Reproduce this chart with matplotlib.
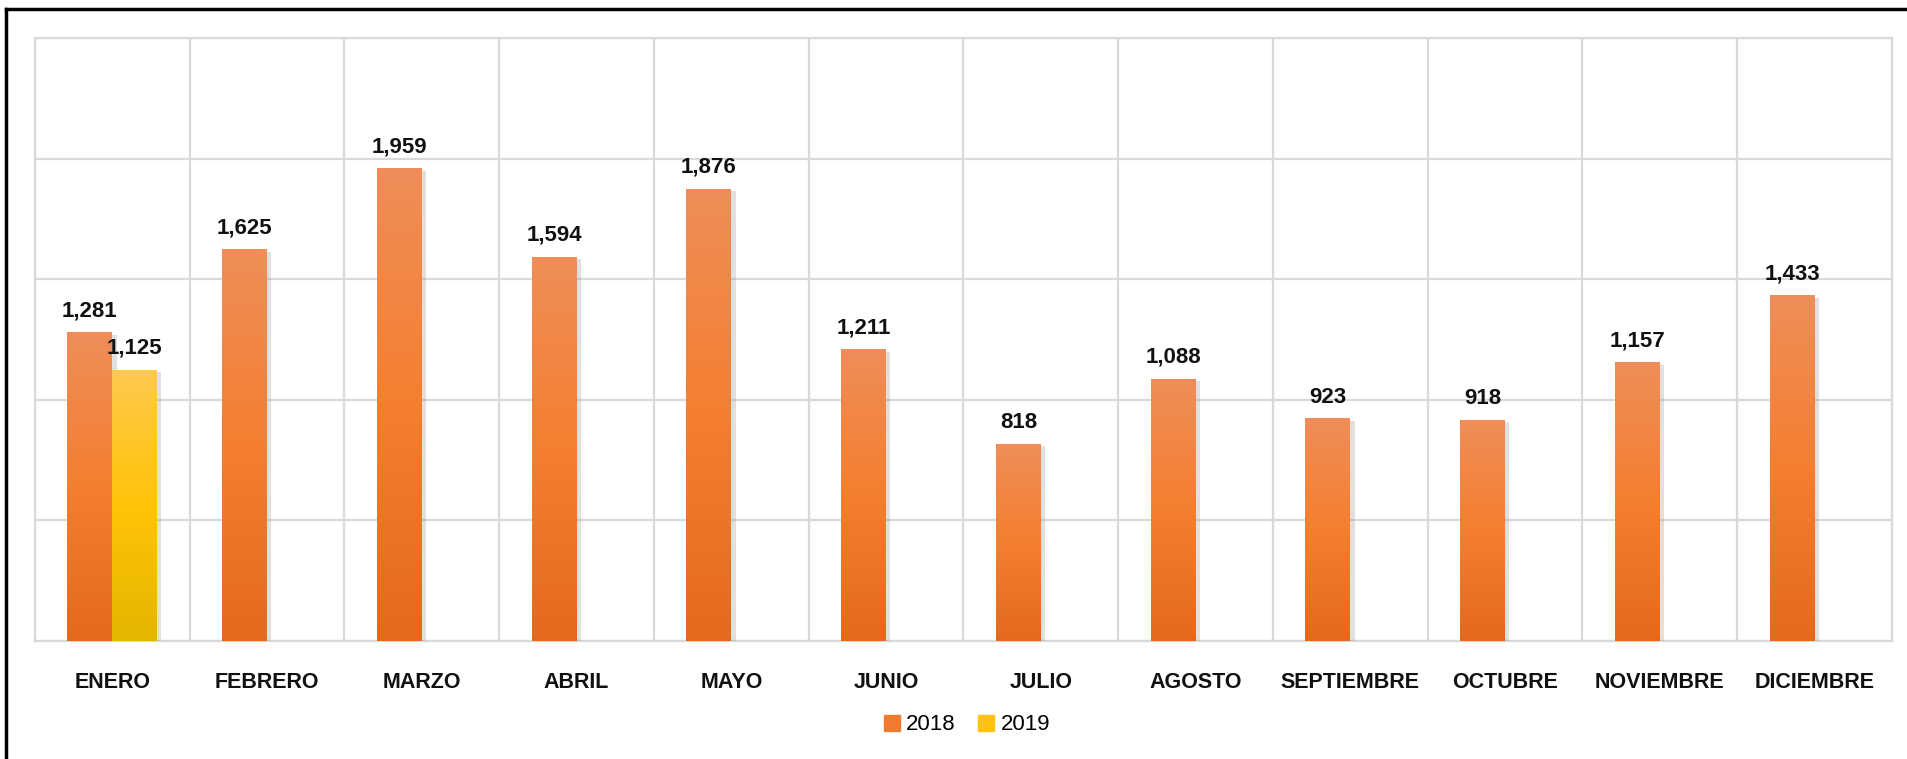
import numpy as np
import matplotlib.pyplot as plt
import matplotlib.patheffects as pe
from matplotlib.colors import LinearSegmentedColormap
from matplotlib.lines import Line2D
from matplotlib.patches import Patch

plt.rcParams['font.family'] = ['Liberation Sans', 'DejaVu Sans']

meses = ["ENERO", "FEBRERO", "MARZO", "ABRIL", "MAYO", "JUNIO", "JULIO",
         "AGOSTO", "SEPTIEMBRE", "OCTUBRE", "NOVIEMBRE", "DICIEMBRE"]
v2018 = [1281, 1625, 1959, 1594, 1876, 1211, 818, 1088, 923, 918, 1157, 1433]
v2019 = [1125, None, None, None, None, None, None, None, None, None, None, None]

# gradients: bottom -> middle -> top
cm_2018 = LinearSegmentedColormap.from_list("o", ["#E46A1B", "#F47F2F", "#EF8D59"])
cm_2019 = LinearSegmentedColormap.from_list("y", ["#E5B500", "#FFC408", "#FFC84E"])

fig = plt.figure(figsize=(19.08, 7.59), dpi=100)
ax = fig.add_axes([35 / 1908, 1 - 641 / 759, (1892 - 35) / 1908, (641 - 38) / 759])

x = np.arange(len(meses))
w = 0.29
ymax = 2500
shadow = [pe.SimplePatchShadow(offset=(3, -2), shadow_rgbFace="#999999", alpha=0.3), pe.Normal()]


def gradient_bars(xs, vals, cmap, color):
    xs2 = [xi for xi, v in zip(xs, vals) if v is not None]
    vs2 = [v for v in vals if v is not None]
    bars = ax.bar(xs2, vs2, w, color=color, zorder=3, path_effects=shadow)
    grad = np.linspace(0, 1, 256).reshape(-1, 1)
    for b in bars:
        x0 = b.get_x()
        h = b.get_height()
        im = ax.imshow(grad, extent=[x0, x0 + w, 0, h], origin="lower", aspect="auto",
                       cmap=cmap, zorder=3.5)
        im.set_clip_path(b)
        ax.text(x0 + w / 2, h + 45, f"{h:,.0f}", ha="center", va="bottom",
                fontsize=16, fontweight="bold", color="#111111", zorder=5)
    return bars


gradient_bars(x - w / 2, v2018, cm_2018, "#F07A2E")
gradient_bars(x + w / 2, v2019, cm_2019, "#FFC20E")

ax.set_xlim(-0.5, len(meses) - 0.5)
ax.set_ylim(0, ymax)
ax.set_aspect("auto")
ax.set_yticks(np.arange(0, ymax + 1, 500))
ax.set_yticklabels([])
ax.set_xticks(x)
ax.set_xticklabels(meses, fontsize=15.5, fontweight="bold", color="#111111")
ax.set_xticks(np.arange(-0.5, len(meses), 1), minor=True)
ax.tick_params(axis="both", which="both", length=0)
ax.tick_params(axis="x", which="major", pad=22)
ax.grid(axis="y", which="major", color="#D9D9D9", linewidth=1.6, zorder=0)
ax.grid(axis="x", which="minor", color="#D9D9D9", linewidth=1.6, zorder=0)
ax.grid(axis="x", which="major", visible=False)
for s in ax.spines.values():
    s.set_color("#D9D9D9")
    s.set_linewidth(1.6)

handles = [Patch(color="#F07A2E", label="2018"), Patch(color="#FFC20E", label="2019")]
fig.legend(handles=handles, loc="center", bbox_to_anchor=(967 / 1908, 1 - 725 / 759), ncol=2,
           frameon=False, fontsize=16, handlelength=0.7, handleheight=0.7, handletextpad=0.3,
           columnspacing=1.0)

# outer frame (top and left edges visible)
fig.add_artist(Line2D([6 / 1908, 6 / 1908], [0, 1 - 9 / 759], transform=fig.transFigure,
                      color="black", linewidth=2.5))
fig.add_artist(Line2D([6 / 1908, 1], [1 - 9 / 759, 1 - 9 / 759], transform=fig.transFigure,
                      color="black", linewidth=2.5))

fig.savefig("out.png", dpi=100)
